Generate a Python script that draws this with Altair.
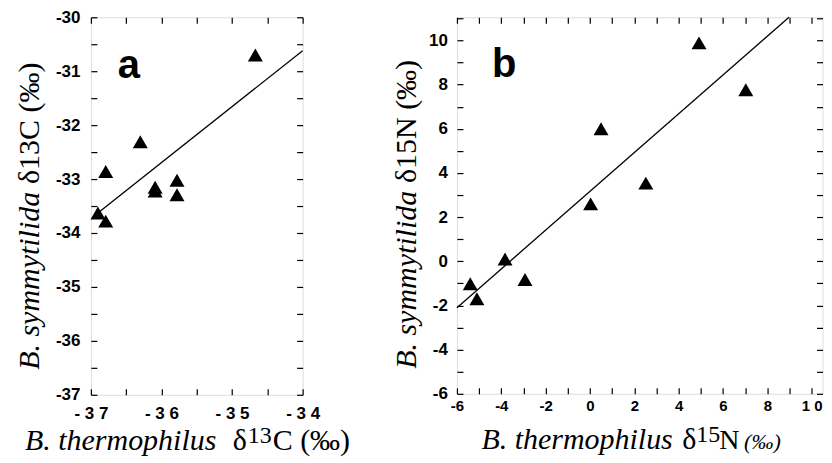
import altair as alt
import pandas as pd

# ---------------- data ----------------
# panel a : delta13C
a_x = [-34.67, -36.30, -36.79, -36.09, -36.09, -35.78, -35.78, -36.90, -36.79]
a_y = [-30.70, -32.31, -32.86, -33.15, -33.22, -33.02, -33.29, -33.63, -33.78]
a_fit_x = [-36.95, -34.0]
a_fit_y = [-33.68, -30.62]

# panel b : delta15N
b_x = [4.92, 7.03, 0.50, 2.52, 0.03, -3.83, -2.93, -5.40, -5.10]
b_y = [9.89, 7.77, 6.00, 3.54, 2.60, 0.10, -0.82, -1.02, -1.70]
b_fit_x = [-6.0, 8.98]
b_fit_y = [-2.10, 11.05]

# ticks and tick labels
a_xticks = [-37, -36.5, -36, -35.5, -35, -34.5, -34]
a_xlabels = ["-  3 7", "", "-  3 6", "", "-  3 5", "", "-  3 4"]
a_yticks = [-37, -36.5, -36, -35.5, -35, -34.5, -34, -33.5, -33, -32.5, -32, -31.5, -31, -30.5, -30]
a_ylabels = ["-37", "", "-36", "", "-35", "", "-34", "", "-33", "", "-32", "", "-31", "", "-30"]
b_xticks = [-6, -5, -4, -3, -2, -1, 0, 1, 2, 3, 4, 5, 6, 7, 8, 9, 10]
b_xlabels = ["-6", "", "-4", "", "-2", "", "0", "", "2", "", "4", "", "6", "", "8", "", "1 0"]
b_yticks = [-6, -5, -4, -3, -2, -1, 0, 1, 2, 3, 4, 5, 6, 7, 8, 9, 10, 11]
b_ylabels = ["-6", "", "-4", "", "-2", "", "0", "", "2", "", "4", "", "6", "", "8", "", "10", ""]

a_tag = ["a"]
b_tag = ["b"]
ylab_sp = ["B. symmytilida"]
xlab_sp = ["B. thermophilus"]
a_unit = ["\u03b4", "13", "C (\u2030)"]
b_unit = ["\u03b4", "15", "N", "(\u2030)"]

SERIF = "Liberation Serif"
SANS = "Liberation Sans"


def label_expr(vals, labs):
    parts = []
    for v, l in zip(vals, labs):
        parts.append(f"datum.value == {v} ? '{l}'")
    return " : ".join(parts) + " : ''"


def axis(orient, vals, labs, size, pad, show=True):
    kw = dict(orient=orient, values=vals, title=None, grid=False, domain=False,
              ticks=True, tickSize=6, tickWidth=1.2, tickColor="black",
              offset=-6)
    if show:
        kw.update(labelExpr=label_expr(vals, labs), labelFont=SANS,
                  labelFontSize=size, labelFontWeight="bold",
                  labelColor="black", labelPadding=pad,
                  labelOverlap=False, labelFlush=False)
    else:
        kw.update(labels=False)
    return alt.Axis(**kw)


def txt(s, x, y, size, style="normal", weight="normal", angle=0, font=SERIF,
        baseline="alphabetic"):
    kw = dict(align="left", baseline=baseline, font=font, fontSize=size,
              fontStyle=style, fontWeight=weight, color="black")
    if angle:
        kw["angle"] = angle
    return alt.Chart(pd.DataFrame({"t": [s]})).mark_text(**kw).encode(
        x=alt.value(x), y=alt.value(y), text="t:N")


# ---------------- panel a ----------------
W_A, H_A = 212, 378
xs_a = alt.Scale(domain=[-37, -34], nice=False, zero=False)
ys_a = alt.Scale(domain=[-37, -30], nice=False, zero=False)
df_a = pd.DataFrame({"x": a_x, "y": a_y})
fit_a = pd.DataFrame({"x": a_fit_x, "y": a_fit_y})

pts_a = alt.Chart(df_a).mark_point(shape="triangle-up", filled=True, size=225,
                                   color="black", opacity=1).encode(
    x=alt.X("x:Q", scale=xs_a, axis=axis("bottom", a_xticks, a_xlabels, 17, 11)),
    y=alt.Y("y:Q", scale=ys_a, axis=axis("left", a_yticks, a_ylabels, 17, 11)))
line_a = alt.Chart(fit_a).mark_line(color="black", strokeWidth=1.3).encode(
    x=alt.X("x:Q", scale=xs_a, axis=axis("top", a_xticks, a_xlabels, 16, 11, False)),
    y=alt.Y("y:Q", scale=ys_a, axis=axis("right", a_yticks, a_ylabels, 16, 11, False)))

panel_a = alt.layer(
    line_a, pts_a,
    txt(a_tag[0], 27, 61, 40, weight="bold", font=SANS),
    txt(ylab_sp[0], -61, 353, 30, style="italic", angle=270, baseline="middle"),
    txt(a_unit[0] + a_unit[1] + a_unit[2], -61, 167, 30, angle=270, baseline="middle"),
    txt(xlab_sp[0], -66, 433, 30, style="italic"),
    txt(a_unit[0], 142, 433, 30),
    txt(a_unit[1], 157, 426, 24),
    txt(a_unit[2], 182, 433, 30),
).resolve_axis(x="independent", y="independent").properties(width=W_A, height=H_A)

# ---------------- panel b ----------------
W_B, H_B = 366, 377
xs_b = alt.Scale(domain=[-6, 10.49], nice=False, zero=False)
ys_b = alt.Scale(domain=[-6, 11.05], nice=False, zero=False)
df_b = pd.DataFrame({"x": b_x, "y": b_y})
fit_b = pd.DataFrame({"x": b_fit_x, "y": b_fit_y})

pts_b = alt.Chart(df_b).mark_point(shape="triangle-up", filled=True, size=225,
                                   color="black", opacity=1).encode(
    x=alt.X("x:Q", scale=xs_b, axis=axis("bottom", b_xticks, b_xlabels, 15, 5)),
    y=alt.Y("y:Q", scale=ys_b, axis=axis("left", b_yticks, b_ylabels, 17, 9.5)))
line_b = alt.Chart(fit_b).mark_line(color="black", strokeWidth=1.3).encode(
    x=alt.X("x:Q", scale=xs_b, axis=axis("top", b_xticks, b_xlabels, 15, 5, False)),
    y=alt.Y("y:Q", scale=ys_b, axis=axis("right", b_yticks, b_ylabels, 16, 9.5, False)))

panel_b = alt.layer(
    line_b, pts_b,
    txt(b_tag[0], 35, 60, 40, weight="bold", font=SANS),
    txt(ylab_sp[0], -49.5, 352, 30, style="italic", angle=270, baseline="middle"),
    txt(b_unit[0] + b_unit[1] + b_unit[2] + " " + b_unit[3], -49.5, 166, 30, angle=270,
        baseline="middle"),
    txt(xlab_sp[0], 24.5, 432, 30, style="italic"),
    txt(b_unit[0], 225.5, 432, 30),
    txt(b_unit[1], 239.5, 425, 24),
    txt(b_unit[2], 262.5, 432, 28),
    txt(b_unit[3], 287.5, 432, 22, style="italic"),
).resolve_axis(x="independent", y="independent").properties(width=W_B, height=H_B)

chart = alt.hconcat(panel_a, panel_b, spacing=154.5, bounds="flush").properties(
    padding={"left": 6, "top": -1, "right": 0, "bottom": 0}
).configure_view(stroke="black", strokeWidth=1.5).configure(background="white")

chart.save("out.html", embed_options={"renderer": "svg", "actions": False})
